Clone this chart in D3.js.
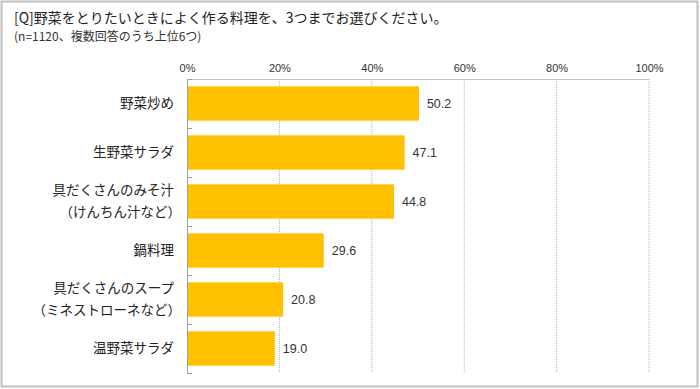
<!DOCTYPE html>
<html><head><meta charset="utf-8">
<script src="https://cdn.jsdelivr.net/npm/d3@7"></script>
<style>body{margin:0;background:#fff;}svg{display:block;font-family:"Noto Sans CJK JP",sans-serif;}</style>
</head><body>
<svg id="c" width="700" height="389"></svg>
<script>
const categories = [["野菜炒め"],["生野菜サラダ"],["具だくさんのみそ汁","（けんちん汁など）"],["鍋料理"],["具だくさんのスープ","（ミネストローネなど）"],["温野菜サラダ"]];
const values = [50.2, 47.1, 44.8, 29.6, 20.8, 19.0];
const tickValues = [0, 20, 40, 60, 80, 100];
const title = "[Q]野菜をとりたいときによく作る料理を、3つまでお選びください。";
const subtitle = "(n=1120、複数回答のうち上位6つ)";

const svg = d3.select("#c");
svg.append("rect").attr("x",1.5).attr("y",1.5).attr("width",696).attr("height",385)
  .attr("fill","#fff").attr("stroke","#c0c0c0").attr("stroke-width",2);

svg.append("text").attr("x",14).attr("y",22.5).attr("font-size",14).attr("fill","#222").text(title);
svg.append("text").attr("x",14).attr("y",40.5).attr("font-size",12).attr("fill","#333").text(subtitle);

const x = d3.scaleLinear().domain([0,100]).range([187,649]);
const idx = categories.map((d,i)=>i);
const y = d3.scaleBand().domain(idx).range([79,373]).paddingInner(0.3).paddingOuter(0.15);
const yb = d3.scaleBand().domain(idx).range([79,373]);

// gridlines
svg.append("g").selectAll("line").data(tickValues.slice(1)).join("line")
  .attr("x1",d=>x(d)).attr("x2",d=>x(d)).attr("y1",79).attr("y2",373)
  .attr("stroke","#b0b0b0").attr("stroke-dasharray","1,1");
// top border
svg.append("line").attr("x1",187).attr("x2",649).attr("y1",79.5).attr("y2",79.5).attr("stroke","#c0c0c0");

// top axis labels
const ax = d3.axisTop(x).tickValues(tickValues).tickFormat(d=>d+"%").tickSize(0).tickPadding(0);
const gAx = svg.append("g").attr("transform","translate(0,72)").call(ax);
gAx.select(".domain").remove();
gAx.selectAll("text").attr("font-size",11).attr("fill","#333").attr("font-family","Liberation Sans, Arial, sans-serif");

// bars
svg.append("g").selectAll("rect").data(values).join("rect")
  .attr("x",x(0)).attr("y",(d,i)=>y(i)).attr("width",d=>x(d)-x(0)).attr("height",y.bandwidth())
  .attr("fill","#FFC000");

// left axis
svg.append("line").attr("x1",187.5).attr("x2",187.5).attr("y1",79).attr("y2",374).attr("stroke","#a0a0a0");
svg.append("g").selectAll("line").data(d3.range(categories.length+1)).join("line")
  .attr("x1",187).attr("x2",192)
  .attr("y1",d=>Math.round(79+d*yb.step())+0.5).attr("y2",d=>Math.round(79+d*yb.step())+0.5)
  .attr("stroke","#a0a0a0");

// value labels
svg.append("g").selectAll("text").data(values).join("text")
  .attr("x",d=>x(d)+8).attr("y",(d,i)=>y(i)+y.bandwidth()/2).attr("dy","0.35em")
  .attr("font-size",12.5).attr("fill","#333").attr("font-family","Liberation Sans, Arial, sans-serif")
  .text(d=>d.toFixed(1));

// category labels
const gl = svg.append("g").selectAll("text").data(categories).join("text")
  .attr("text-anchor","end").attr("font-size",13.5).attr("fill","#222")
  .attr("y",(d,i)=>y(i)+y.bandwidth()/2);
gl.each(function(d){
  const t = d3.select(this);
  const n = d.length;
  d.forEach((s,k)=>{
    t.append("tspan").attr("x", s.startsWith("（") ? 181 : 174)
      .attr("dy", k===0 ? (0.35 - (n-1)*0.8)+"em" : "1.6em").text(s);
  });
});
</script>
</body></html>
